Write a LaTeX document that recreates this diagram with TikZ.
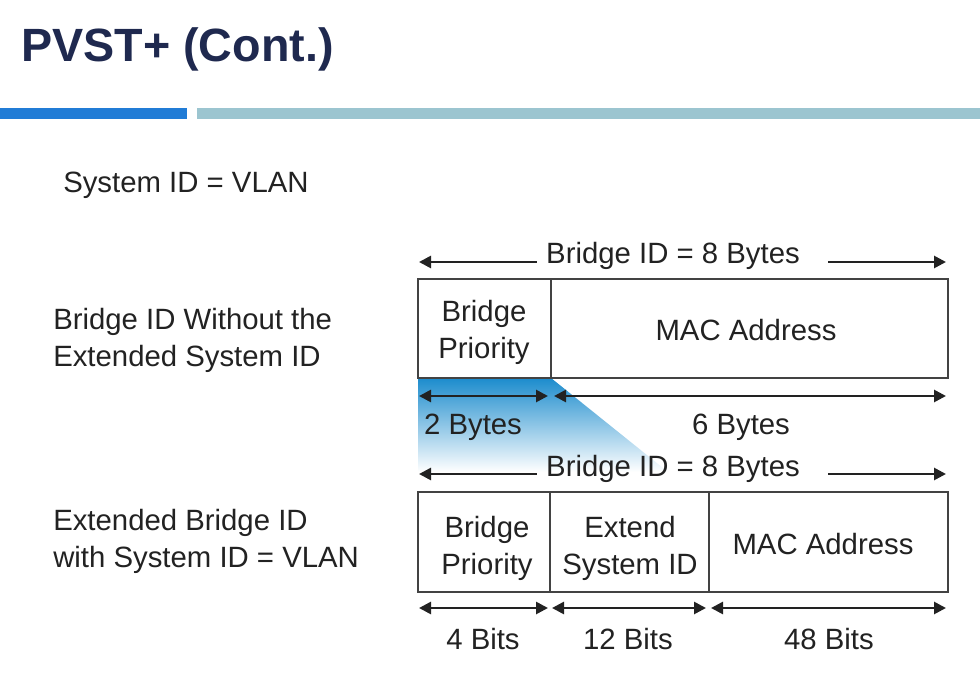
\documentclass[tikz,border=0pt]{standalone}
\usepackage{fontspec}
\setmainfont{Liberation Sans}
\usetikzlibrary{arrows.meta}
\definecolor{titlenavy}{RGB}{31,41,79}
\definecolor{barblue}{RGB}{33,124,214}
\definecolor{barteal}{RGB}{156,197,208}
\definecolor{shadeblue}{RGB}{28,140,205}
\definecolor{inkgray}{RGB}{34,34,34}

\tikzset{
  txt/.style={font=\fontsize{22}{28}\selectfont, text=inkgray, inner sep=0pt, yshift=-2.5pt},
  field/.style={draw=inkgray!85, line width=1.4pt},
  dimboth/.style={line width=2pt, inkgray, {Triangle[length=9pt,width=9pt]}-{Triangle[length=9pt,width=9pt]}},
  dimleft/.style={line width=2pt, inkgray, {Triangle[length=9pt,width=9pt]}-},
  dimright/.style={line width=2pt, inkgray, -{Triangle[length=9pt,width=9pt]}}
}

\begin{document}
\begin{tikzpicture}[x=0.75pt,y=-0.75pt]
  %%%%% START %%%%%
  \useasboundingbox[fill=white] (0,0) rectangle (980,673);

  % title and bars
  \node[anchor=west, inner sep=0pt, text=titlenavy, font=\fontsize{35}{40}\selectfont\bfseries] (title) at (21,49) {PVST+ (Cont.)};
  \fill[barblue] (0,108) rectangle (187,119);
  \fill[barteal] (197,108) rectangle (980,119);

  \node[txt, anchor=west] (sysid) at (63,182) {System ID = VLAN};

  % blue fan under the priority field
  \shade[top color=shadeblue, bottom color=white] (418,378) -- (551,378) -- (668,472) -- (418,472) -- cycle;

  %%%%% bridge ID without extension %%%%%
  \node[txt, anchor=west, align=left] (oldlbl) at (53,337) {Bridge ID Without the\\Extended System ID};

  \node[txt] (oldtotal) at (673,253) {Bridge ID = 8 Bytes};
  \draw[dimleft] (419,262) -- (537,262);
  \draw[dimright] (828,262) -- (946,262);

  \draw[field] (418,279) rectangle (948,378);
  \draw[field] (551,279) -- (551,378);
  \node[txt, align=center] (oldprio) at (484,329) {Bridge\\Priority};
  \node[txt] (oldmac) at (746,327) {MAC Address};

  \draw[dimboth] (419,396) -- (548,396);
  \draw[dimboth] (554,396) -- (946,396);
  \node[txt] (twob) at (473,424) {2 Bytes};
  \node[txt] (sixb) at (741,424) {6 Bytes};

  %%%%% extended bridge ID %%%%%
  \node[txt, anchor=west, align=left] (newlbl) at (53,538) {Extended Bridge ID\\with System ID = VLAN};

  \node[txt] (newtotal) at (673,466) {Bridge ID = 8 Bytes};
  \draw[dimleft] (419,474) -- (537,474);
  \draw[dimright] (828,474) -- (946,474);

  \draw[field] (418,492) rectangle (948,592);
  \draw[field] (550,492) -- (550,592);
  \draw[field] (709,492) -- (709,592);
  \node[txt, align=center] (newprio) at (487,545) {Bridge\\Priority};
  \node[txt, align=center] (extid) at (630,545) {Extend\\System ID};
  \node[txt] (newmac) at (823,541) {MAC Address};

  \draw[dimboth] (419,608) -- (548,608);
  \draw[dimboth] (552,608) -- (706,608);
  \draw[dimboth] (711,608) -- (946,608);
  \node[txt] (fourb) at (483,636) {4 Bits};
  \node[txt] (twelveb) at (628,636) {12 Bits};
  \node[txt] (fortyb) at (829,636) {48 Bits};
  %%%%% END %%%%%
\end{tikzpicture}
\end{document}
